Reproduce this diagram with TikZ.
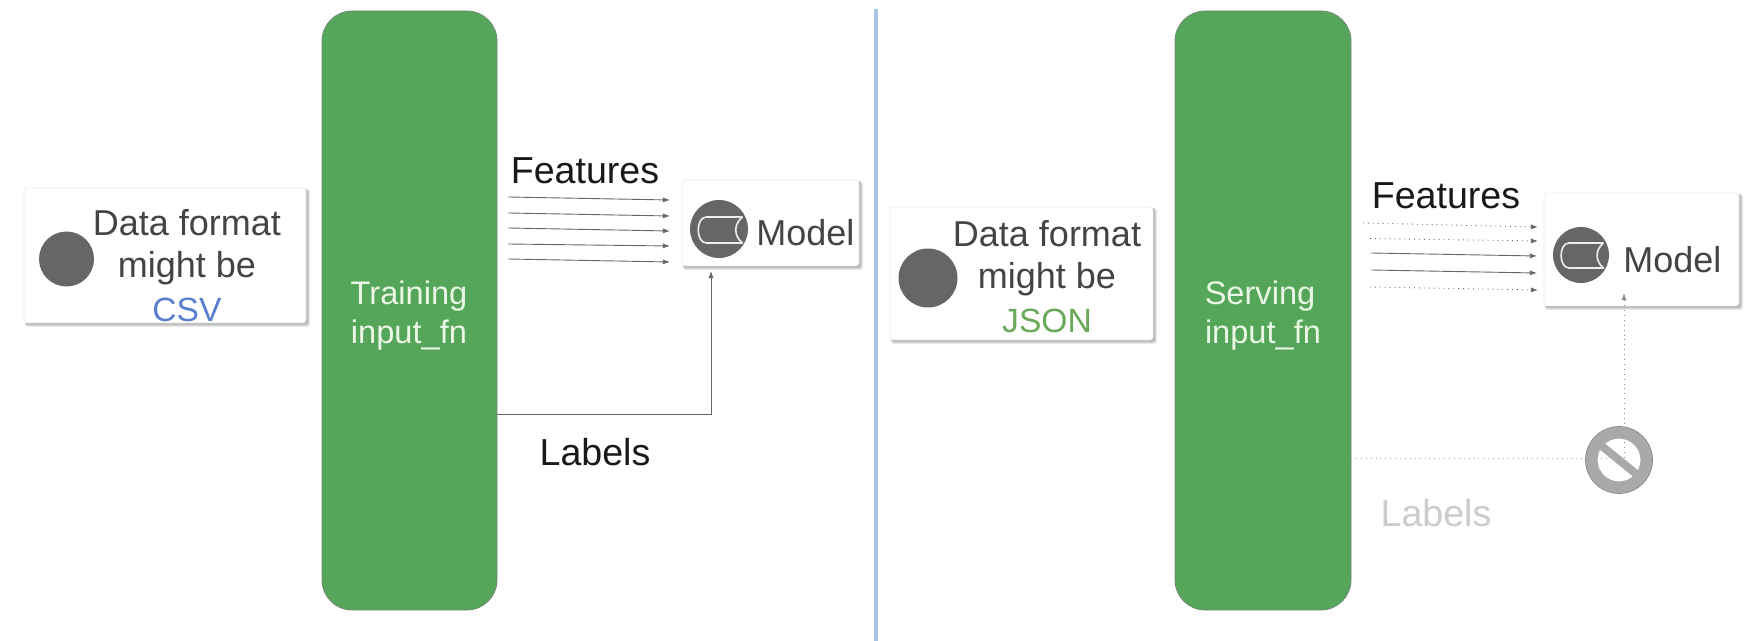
\documentclass[tikz,border=0pt]{standalone}
\usepackage{fontspec}
\setmainfont{Liberation Sans}
\usetikzlibrary{arrows.meta}
\definecolor{barg}{HTML}{55A65A}
\definecolor{txt}{HTML}{444444}
\definecolor{ico}{HTML}{666666}
\definecolor{stopg}{HTML}{A9A9A9}
\definecolor{divc}{HTML}{A9C4E6}
\definecolor{csvc}{HTML}{5B7FD0}
\definecolor{jsonc}{HTML}{6AA85A}
\definecolor{lab2}{HTML}{CCCCCC}
\definecolor{bartxt}{HTML}{E9F7E4}
\tikzset{x=0.5pt,y=-0.5pt,
 cardfill/.style={fill=white,draw=black!7,line width=.4pt,rounded corners=1.5pt},
 bar/.style={fill=barg,draw=gray!70!barg,line width=.4pt,rounded corners=15pt},
 disc/.style={circle,fill=ico,draw=none,inner sep=0pt},
 lbl/.style={inner sep=0pt,anchor=base,font=\fontsize{18pt}{21pt}\selectfont,text=txt},
 fmt/.style={inner sep=0pt,anchor=base,font=\fontsize{16.8pt}{21pt}\selectfont},
 big/.style={inner sep=0pt,anchor=base,font=\fontsize{18.8pt}{22pt}\selectfont,text=black!90},
 wtxt/.style={inner sep=0pt,anchor=base,font=\fontsize{16.3pt}{18pt}\selectfont,text=bartxt},
 arr/.style={draw=black!60,line width=.45pt,-{Latex[length=3.6pt,width=2.6pt]}},
 dotarr/.style={draw=black!60,line width=.45pt,dotted,-{Latex[length=3.6pt,width=2.6pt]}},
 gdot/.style={draw=black!35,line width=.45pt,dotted},
}
\newcommand{\cardbox}[4]{%
 \foreach \d in {0,1,2,3,4}{
  \fill[black,opacity=.09,rounded corners=1.5pt] (#1+1,#2+1) rectangle (#3+\d,#4+\d);}
 \path[cardfill] (#1,#2) rectangle (#3,#4);}
\newcommand{\cyl}[3]{% cx cy scale
 \begin{scope}[shift={(#1,#2)},scale=#3]
  \draw[white!88!ico,line width=.8pt,line join=round]
   (23,-13) -- (-13,-13) .. controls (-24,-13) and (-24,13) .. (-13,13) -- (23,13)
   .. controls (14,6) and (14,-6) .. (23,-13);
 \end{scope}}
\begin{document}
\begin{tikzpicture}
\useasboundingbox (0,0) rectangle (1750,641);
\fill[white] (0,0) rectangle (1750,641);
% divider
\coordinate (d1) at (876,9); \coordinate (d2) at (876,641);
\draw[divc,line width=2pt] (d1) -- (d2);
% bars
\draw[bar] (322,11) rectangle (497,610);
\coordinate (lbarlab) at (497,414);
\draw[bar] (1175,11) rectangle (1351,610);
% left data card
\cardbox{24}{188}{306}{323}
\node[disc,minimum size=27.5pt] (c1) at (66.5,259) {};
\node[lbl] (t1) at (187,236) {Data format};
\node[lbl] (t2) at (187,278) {might be};
\node[fmt,text=csvc] (t3) at (187,322) {CSV};
% left bar text
\node[wtxt] (tr) at (409,305) {Training};
\node[wtxt] (in) at (409,344) {input\_fn};
% left features
\node[big] (f1) at (585,184) {Features};
\foreach \n/\a/\b in {1/197/200,2/213/216,3/228/231,4/244/246,5/259/262}{
  \coordinate (ls\n) at (508,\a); \coordinate (le\n) at (670,\b);
  \draw[arr] (ls\n) -- (le\n);}
% left model card
\cardbox{682}{180}{859}{266}
\node[disc,minimum size=29pt] (m1) at (719,229) {};
\cyl{719.5}{230}{1}
\node[lbl,anchor=base west] (mt1) at (756,246) {Model};
% left labels
\coordinate (lt) at (711,271);
\draw[arr] (lbarlab) -| (lt);
\node[big] (l1) at (595,466) {Labels};
% right data card
\cardbox{890}{207}{1153}{340}
\node[disc,minimum size=29.5pt] (c2) at (928,278) {};
\node[lbl] (t4) at (1047,247) {Data format};
\node[lbl] (t5) at (1047,289) {might be};
\node[fmt,text=jsonc] (t6) at (1047,333) {JSON};
% right bar text
\node[wtxt] (se) at (1260,305) {Serving};
\node[wtxt] (in2) at (1263,344) {input\_fn};
% right features
\node[big] (f2) at (1446,209) {Features};
\coordinate (rs1) at (1363,223); \coordinate (re1) at (1538,227);
\coordinate (rs2) at (1370,238.5); \coordinate (re2) at (1538,241);
\coordinate (rs3) at (1371,253); \coordinate (re3) at (1537,256);
\coordinate (rs4) at (1371,270); \coordinate (re4) at (1537,273);
\coordinate (rs5) at (1370,287); \coordinate (re5) at (1538,290);
\draw[dotarr] (rs1) -- (re1);
\draw[dotarr] (rs2) -- (re2);
\draw[arr] (rs3) -- (re3);
\draw[arr] (rs4) -- (re4);
\draw[dotarr] (rs5) -- (re5);
% right model card
\cardbox{1544}{193}{1739}{306}
\node[disc,minimum size=28pt] (m2) at (1581,255) {};
\cyl{1581.5}{255.5}{.96}
\node[lbl,anchor=base west] (mt2) at (1623,273) {Model};
% stop and dotted
\coordinate (rh) at (1351,458);
\coordinate (rv) at (1624,293);
\coordinate (rc) at (1624,458);
\draw[gdot] (rh) -- (rc);
\draw[dotarr,draw=black!45] (rc) -- (rv);
\node[draw=stopg,line width=6pt,circle,inner sep=0pt,minimum size=27.5pt] (stp) at (1619,460) {};
\draw[stopg,line width=4pt] ([shift={(-21,-17)}]1619,460) coordinate (b1) -- ([shift={(21,17)}]1619,460) coordinate (b2);
\draw[gray,line width=.3pt] (1619,460) circle [x radius=33.5, y radius=33.5];
\node[big,text=lab2] (l2) at (1436,526) {Labels};
\end{tikzpicture}
\end{document}
